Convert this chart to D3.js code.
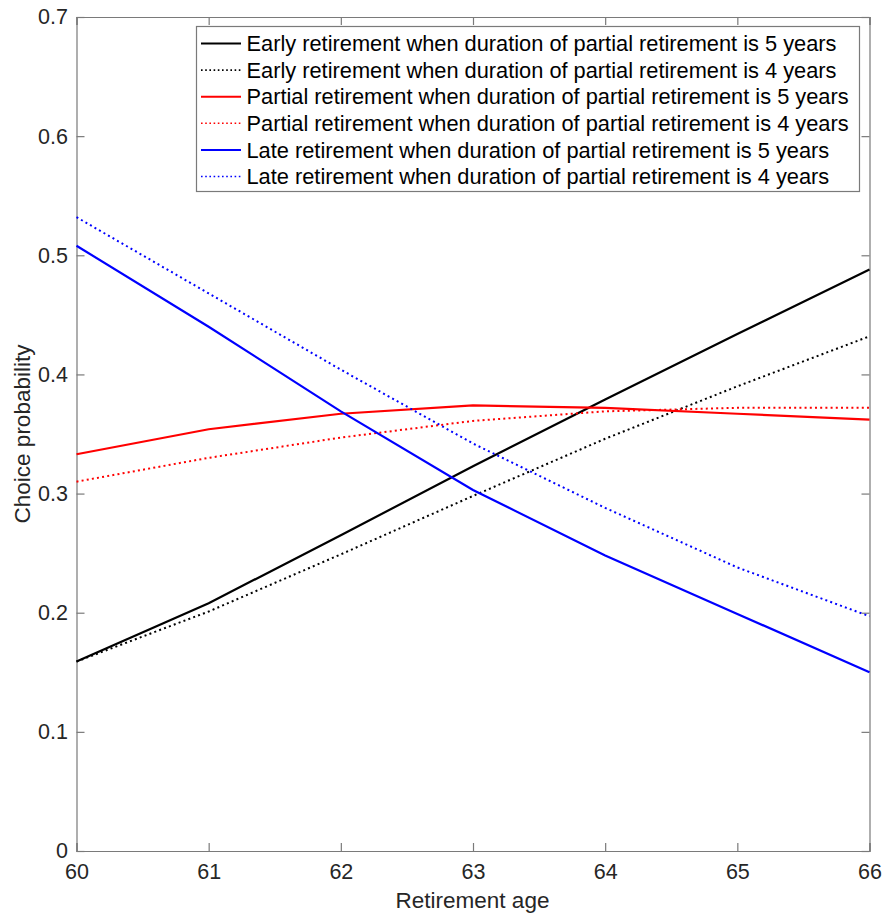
<!DOCTYPE html>
<html><head><meta charset="utf-8">
<script src="https://cdn.jsdelivr.net/npm/d3@7"></script>
<style>body{margin:0;background:#fff}svg{display:block}text{font-family:"Liberation Sans",Arial,Helvetica,sans-serif}</style>
</head><body><svg id="c" width="887" height="916"></svg>
<script>
const ages = [60, 61, 62, 63, 64, 65, 66];
const early5   = [0.159, 0.208, 0.265, 0.323, 0.379, 0.434, 0.488];
const early4   = [0.159, 0.201, 0.249, 0.298, 0.346, 0.390, 0.432];
const partial5 = [0.333, 0.354, 0.367, 0.374, 0.372, 0.367, 0.362];
const partial4 = [0.310, 0.330, 0.347, 0.361, 0.369, 0.372, 0.372];
const late5    = [0.508, 0.440, 0.369, 0.303, 0.248, 0.199, 0.150];
const late4    = [0.532, 0.468, 0.404, 0.342, 0.288, 0.238, 0.197];
const yTicks = [0, 0.1, 0.2, 0.3, 0.4, 0.5, 0.6, 0.7];
const seriesNames = [
  "Early retirement when duration of partial retirement is 5 years",
  "Early retirement when duration of partial retirement is 4 years",
  "Partial retirement when duration of partial retirement is 5 years",
  "Partial retirement when duration of partial retirement is 4 years",
  "Late retirement when duration of partial retirement is 5 years",
  "Late retirement when duration of partial retirement is 4 years"
];
const seriesValues = [early5, early4, partial5, partial4, late5, late4];
const seriesColors = ["#000000", "#000000", "#ff0000", "#ff0000", "#0000ff", "#0000ff"];
const seriesDotted = [false, true, false, true, false, true];

const L = 76.5, R = 869.5, T = 17, B = 851;
const svg = d3.select("#c");
const x = d3.scaleLinear().domain([60, 66]).range([L, R]);
const y = d3.scaleLinear().domain([0, 0.7]).range([B, T]);
const axisColor = "#7a7a7a", textColor = "#262626", fs = 21.5, lfs = 21.8;

// axes with inward ticks (mirrored)
const gx = svg.append("g").attr("transform", `translate(0,${B})`)
  .call(d3.axisBottom(x).tickValues(ages).tickSize(-8).tickPadding(13).tickFormat(d3.format("d")));
const gxt = svg.append("g").attr("transform", `translate(0,${T})`)
  .call(d3.axisTop(x).tickValues(ages).tickSize(-8).tickFormat(""));
const gy = svg.append("g").attr("transform", `translate(${L},0)`)
  .call(d3.axisLeft(y).tickValues(yTicks).tickSize(-8).tickPadding(8.5).tickFormat(d => d === 0 ? "0" : d3.format(".1f")(d)));
const gyr = svg.append("g").attr("transform", `translate(${R},0)`)
  .call(d3.axisRight(y).tickValues(yTicks).tickSize(-8).tickFormat(""));
[gx, gxt, gy, gyr].forEach(g => {
  g.selectAll(".domain").attr("stroke", axisColor).attr("stroke-width", 1.2);
  g.selectAll(".tick line").attr("stroke", axisColor).attr("stroke-width", 1.2);
  g.selectAll(".tick text").attr("fill", textColor).style("font-size", fs + "px")
   .style("font-family", '"Liberation Sans",Arial,Helvetica,sans-serif');
});

// lines
const line = d3.line().x((d, i) => x(ages[i])).y(d => y(d));
seriesValues.forEach((vals, k) => {
  svg.append("path").datum(vals).attr("d", line).attr("fill", "none")
    .attr("stroke", seriesColors[k])
    .attr("stroke-width", seriesDotted[k] ? 2 : 2.2)
    .attr("stroke-dasharray", seriesDotted[k] ? "2,3.2" : null);
});

// legend
const lg = svg.append("g");
const lx = 196.5, ly = 26.5, lw = 663, lh = 165, rowH = 26.6, row0 = 43.5;
lg.append("rect").attr("x", lx).attr("y", ly).attr("width", lw).attr("height", lh)
  .attr("fill", "#fff").attr("stroke", axisColor).attr("stroke-width", 1.2);
seriesNames.forEach((name, k) => {
  const cy = row0 + k * rowH;
  lg.append("line").attr("x1", 201).attr("x2", 241).attr("y1", cy).attr("y2", cy)
    .attr("stroke", seriesColors[k]).attr("stroke-width", seriesDotted[k] ? 1.6 : 2)
    .attr("stroke-dasharray", seriesDotted[k] ? "1.6,2.6" : null);
  lg.append("text").attr("x", 246.5).attr("y", cy).attr("dy", "0.35em")
    .attr("fill", "#000").style("font-size", lfs + "px").text(name);
});

// axis labels
svg.append("text").attr("x", 472.5).attr("y", 900).attr("dy", "0.35em")
  .attr("text-anchor", "middle").attr("fill", textColor).style("font-size", "22.5px").text("Retirement age");
svg.append("text").attr("transform", `translate(22,${(T + B) / 2}) rotate(-90)`).attr("dy", "0.35em")
  .attr("text-anchor", "middle").attr("fill", textColor).style("font-size", "22.5px").text("Choice probability");
</script></body></html>
